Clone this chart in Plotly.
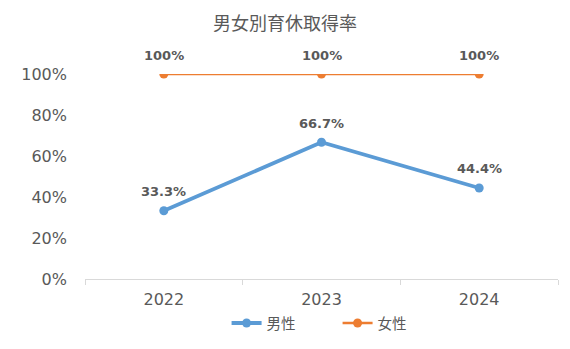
import plotly.graph_objects as go

years = ["2022", "2023", "2024"]
male = [33.3, 66.7, 44.4]
female = [100, 100, 100]
male_labels = ["33.3%", "66.7%", "44.4%"]
female_labels = ["100%", "100%", "100%"]

BLUE = "#5B9BD5"
ORANGE = "#ED7D31"
GRAY = "#595959"
FONT = "DejaVu Sans, Noto Sans CJK JP"
JFONT = "Noto Sans CJK JP"

fig = go.Figure()
fig.add_trace(go.Scatter(x=years, y=male, mode="lines+markers", name="男性",
                         line=dict(color=BLUE, width=3.8),
                         marker=dict(size=9, color=BLUE)))
fig.add_trace(go.Scatter(x=years, y=female, mode="lines+markers", name="女性",
                         line=dict(color=ORANGE, width=2.5),
                         marker=dict(size=9, color=ORANGE)))

for ys, labs in [(male, male_labels), (female, female_labels)]:
    for i, (yv, lab) in enumerate(zip(ys, labs)):
        fig.add_annotation(x=i, y=yv, xref="x", yref="y", text=f"<b>{lab}</b>",
                           showarrow=False, yshift=19,
                           font=dict(family="DejaVu Sans", size=13, color=GRAY))

fig.update_layout(
    width=570, height=349,
    margin=dict(l=85, r=12, t=74, b=70, autoexpand=False),
    paper_bgcolor="white", plot_bgcolor="white",
    title=dict(text="男女別育休取得率", x=0.5, xanchor="center", y=0.932, yanchor="middle",
               font=dict(family=JFONT, size=18, color=GRAY)),
    font=dict(family=FONT, color=GRAY),
    showlegend=True,
    legend=dict(orientation="h", x=0.534, xanchor="center", y=-0.215, yanchor="middle",
                font=dict(family=JFONT, size=14.5, color=GRAY), itemwidth=30,
                entrywidth=66, entrywidthmode="pixels", tracegroupgap=0),
)
fig.update_xaxes(type="category", tickson="boundaries", ticks="outside", ticklen=5,
                 tickcolor="#D9D9D9", showline=True, linecolor="#D9D9D9", linewidth=1,
                 showgrid=False, tickfont=dict(family="DejaVu Sans", size=16, color=GRAY),
                 range=[-0.5, 2.5], fixedrange=True, ticklabelstandoff=6)
fig.update_yaxes(range=[0, 100], tickvals=[0, 20, 40, 60, 80, 100],
                 ticktext=["0%", "20%", "40%", "60%", "80%", "100%"],
                 showgrid=False, zeroline=False, showline=False,
                 ticks="", ticklabelstandoff=17,
                 tickfont=dict(family="DejaVu Sans", size=16, color=GRAY))

fig.write_html("out.html")
